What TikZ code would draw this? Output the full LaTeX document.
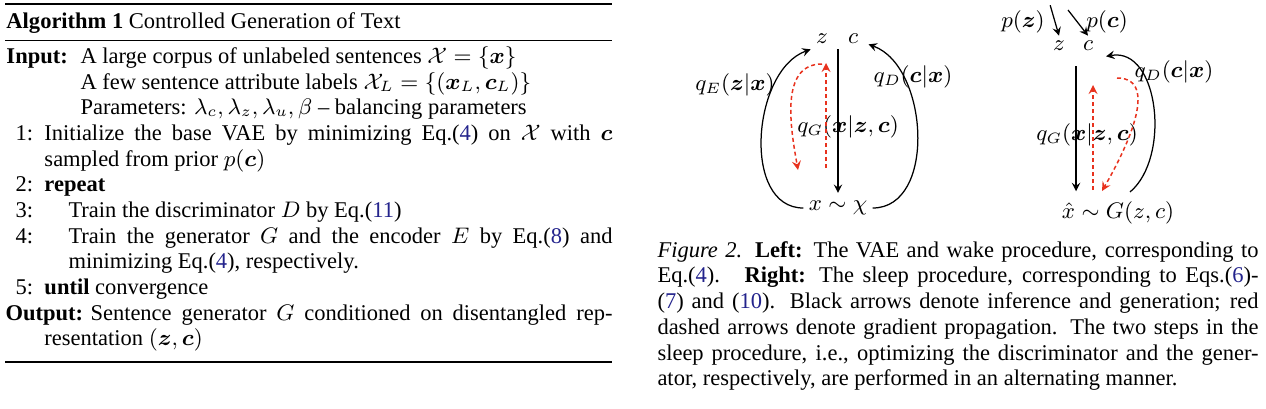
\documentclass[tikz,border=0pt]{standalone}
\usepackage{amsmath,amssymb}
\usepackage{bm}
\usepackage{fontspec}
\setmainfont{Liberation Serif}
\usepackage{tikz}
\usetikzlibrary{arrows}
\definecolor{gradred}{RGB}{232,50,30}
\definecolor{refblue}{RGB}{35,35,140}
\newcommand{\eqnum}[1]{\textcolor{refblue}{#1}}

\begin{document}
\begin{tikzpicture}[x=0.4pt, y=0.4pt,
	every node/.style={font=\fontsize{9}{10.3}\selectfont},
	txt/.style={anchor=base west, inner sep=0pt},
	lbl/.style={inner sep=2pt},
	gen/.style={-stealth, line width=0.5pt},
	grad/.style={-stealth, gradred, line width=0.6pt, dash pattern=on 1.6pt off 1.2pt}]
	\useasboundingbox (0,0) rectangle (1266,-408);
	% algorithm box
	\draw[line width=0.8pt] (5,-4) -- (612,-4);
	\node[txt] (title) at (6,-28) {\textbf{Algorithm 1} Controlled Generation of Text};
	\draw[line width=0.4pt] (5,-40) -- (612,-40);
	\node[txt] (input) at (6,-63) {\textbf{Input:}};
	\node[txt] (in1) at (80,-63) {A large corpus of unlabeled sentences $\mathcal{X}=\{\bm{x}\}$};
	\node[txt] (in2) at (80,-89) {A few sentence attribute labels $\mathcal{X}_L=\{(\bm{x}_L,\bm{c}_L)\}$};
	\node[txt] (in3) at (80,-114) {Parameters: $\lambda_c,\lambda_z,\lambda_u,\beta$ -- balancing parameters};
	\node[txt] (n1) at (15,-140) {1:};
	\node[txt] (s1) at (44,-140) {\makebox[227.2pt][s]{Initialize the base VAE by minimizing Eq.(\eqnum{4}) on $\mathcal{X}$ with $\bm{c}$}};
	\node[txt] (s1b) at (44,-166) {sampled from prior $p(\bm{c})$};
	\node[txt] (n2) at (15,-191) {2:};
	\node[txt] (s2) at (44,-191) {\textbf{repeat}};
	\node[txt] (n3) at (15,-217) {3:};
	\node[txt] (s3) at (68,-217) {Train the discriminator $D$ by Eq.(\eqnum{11})};
	\node[txt] (n4) at (15,-243) {4:};
	\node[txt] (s4) at (68,-243) {\makebox[217.6pt][s]{Train the generator $G$ and the encoder $E$ by Eq.(\eqnum{8}) and}};
	\node[txt] (s4b) at (68,-268) {minimizing Eq.(\eqnum{4}), respectively.};
	\node[txt] (n5) at (15,-294) {5:};
	\node[txt] (s5) at (44,-294) {\textbf{until} convergence};
	\node[txt] (output) at (5,-320) {\textbf{Output:}};
	\node[txt] (out1) at (90,-320) {\makebox[208.8pt][s]{Sentence generator $G$ conditioned on disentangled rep-}};
	\node[txt] (out2) at (44,-345) {resentation $(\bm{z},\bm{c})$};
	\draw[line width=0.5pt] (5,-362) -- (612,-362);
	% left: VAE and wake procedure
	\node[lbl] (zL) at (822,-39) {$z$};
	\node[lbl] (cL) at (853,-39) {$c$};
	\node[lbl] (xL) at (838,-208) {$x\sim\chi$};
	\node[lbl] (qEL) at (735,-85) {$q_E(\bm{z}|\bm{x})$};
	\node[lbl] (qDL) at (913,-77) {$q_D(\bm{c}|\bm{x})$};
	\node[lbl] (qGL) at (848,-127) {$q_G(\bm{x}|\bm{z},\bm{c})$};
	\draw[gen, shorten >=1pt] (xL.north |- zL.south) -- (xL.north);
	\draw[gen] (xL.west) to[out=180,in=200] (zL.south west);
	\draw[gen] (xL.east) to[out=0,in=-20] ([xshift=2pt,yshift=2pt]cL.south east);
	\coordinate (gL1) at (826,-168);
	\coordinate (gL2) at (826,-63);
	\coordinate (gL3) at (822,-64);
	\coordinate (gL4) at (798,-170);
	\draw[grad] (gL1) -- (gL2);
	\draw[grad] (gL3) to[out=180,in=100] (gL4);
	% right: sleep procedure
	\node[lbl] (pz) at (1023,-22) {$p(\bm{z})$};
	\node[lbl] (pc) at (1107,-22) {$p(\bm{c})$};
	\node[lbl] (zR) at (1059,-46) {$z$};
	\node[lbl] (cR) at (1088,-46) {$c$};
	\node[lbl] (xR) at (1118,-213) {$\hat{x}\sim G(z,c)$};
	\node[lbl] (qGR) at (1087,-135) {$q_G(\bm{x}|\bm{z},\bm{c})$};
	\node[lbl] (qDR) at (1174,-72) {$q_D(\bm{c}|\bm{x})$};
	\coordinate (pcin) at (1068,-10);
	\coordinate (genR) at (1076,-66);
	\coordinate (infR) at (1130,-192);
	\draw[gen] (pz.north east) -- (zR.north);
	\draw[gen] (pcin) -- (cR.north);
	\draw[gen, shorten >=2pt] (genR) -- (genR |- xR.north);
	\draw[gen] (infR) to[out=40,in=10] ([xshift=3pt]cR.south east);
	\coordinate (gR1) at (1093,-190);
	\coordinate (gR2) at (1093,-85);
	\coordinate (gR3) at (1117,-78);
	\coordinate (gR4) at (1102,-191);
	\draw[grad] (gR1) -- (gR2);
	\draw[grad] (gR3) to[out=0,in=60] (gR4);
	% caption
	\node[txt, text width=240.4pt, align=justify] (caption) at (657,-257) {\textit{Figure 2.} \textbf{Left:} The VAE and wake procedure, corresponding to\linebreak
		Eq.(\eqnum{4}). \ \textbf{Right:} The sleep procedure, corresponding to Eqs.(\eqnum{6})-\linebreak
		(\eqnum{7}) and (\eqnum{10}). Black arrows denote inference and generation; red\linebreak
		dashed arrows denote gradient propagation. The two steps in the\linebreak
		sleep procedure, i.e., optimizing the discriminator and the gener-\linebreak
		ator, respectively, are performed in an alternating manner.};
\end{tikzpicture}
\end{document}
